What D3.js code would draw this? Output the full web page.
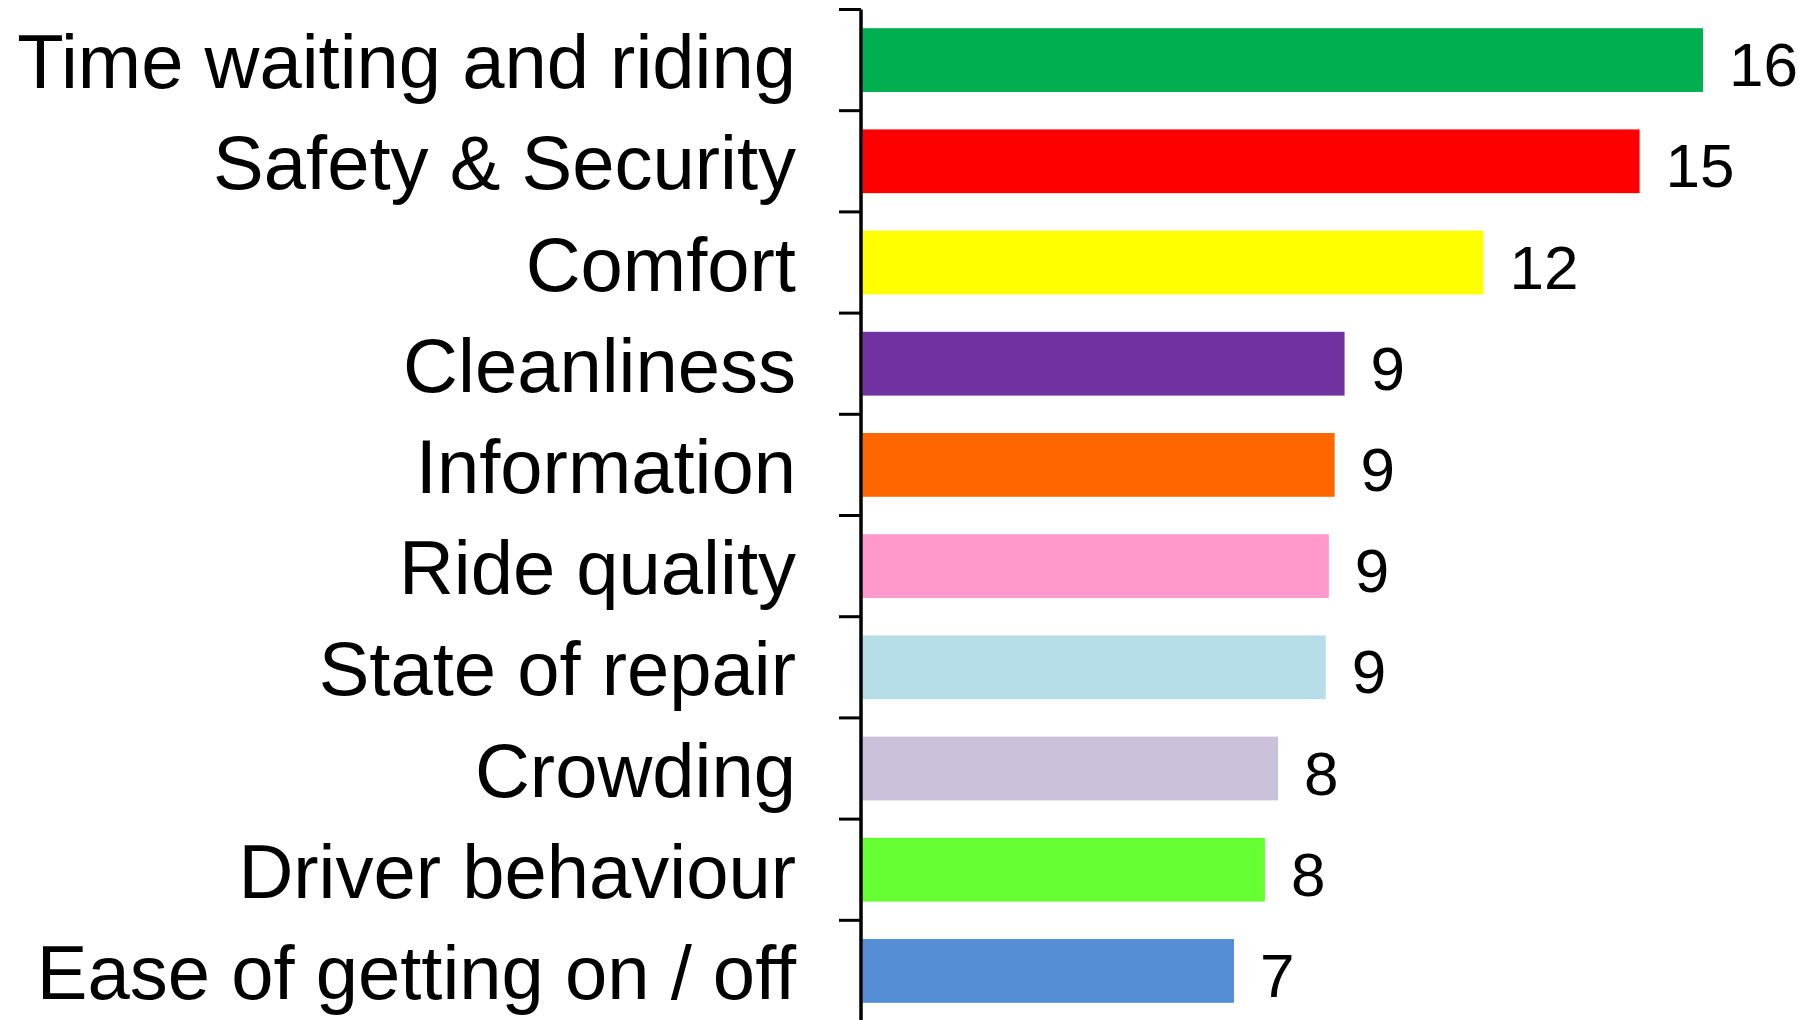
<!DOCTYPE html>
<html>
<head>
<meta charset="utf-8">
<script src="https://cdn.jsdelivr.net/npm/d3@7"></script>
<style>
  body { margin: 0; background: #fff; }
  svg { display: block; font-family: "Liberation Sans", Arial, sans-serif; }
</style>
</head>
<body>
<svg id="chart" width="1814" height="1020"></svg>
<script>
const categories = [
  'Time waiting and riding',
  'Safety & Security',
  'Comfort',
  'Cleanliness',
  'Information',
  'Ride quality',
  'State of repair',
  'Crowding',
  'Driver behaviour',
  'Ease of getting on / off',
];
// values; the labels show them rounded
const values = [16.04, 14.83, 11.85, 9.2, 9.01, 8.9, 8.84, 7.93, 7.68, 7.09];
const barColors = [
  '#00B050', '#FF0000', '#FFFF00', '#7030A0', '#FF6600',
  '#FF99CC', '#B7DDE8', '#CCC1DA', '#66FF33', '#558ED5',
];

const data = categories.map((c, i) => ({ label: c, value: values[i], color: barColors[i] }));

const svg = d3.select('#chart');
const axisX = 861;

const y = d3.scaleBand()
  .domain(categories)
  .range([11, 1020])
  .paddingInner(0.37)
  .paddingOuter(0.17);

const x = d3.scaleLinear()
  .domain([0, 16])
  .range([axisX + 1.5, axisX + 1.5 + 838.4]);

// bars
svg.append('g')
  .selectAll('rect')
  .data(data)
  .join('rect')
  .attr('x', x(0))
  .attr('y', (d) => y(d.label))
  .attr('width', (d) => x(d.value) - x(0))
  .attr('height', y.bandwidth())
  .attr('fill', (d) => d.color);

// category labels
const yAxis = d3.axisLeft(y).tickSize(0).tickPadding(65);
const gAxis = svg.append('g')
  .attr('transform', `translate(${axisX},0)`)
  .call(yAxis);
gAxis.select('.domain').remove();
gAxis.selectAll('text')
  .attr('font-size', 76)
  .attr('font-family', '"Liberation Sans", Arial, sans-serif')
  .attr('fill', '#000')
  .attr('dy', '0.37em');

// axis line and ticks between the categories
const step = y.step();
const boundaries = d3.range(categories.length).map((i) => y(categories[i]) - (y.paddingInner() * step) / 2);

svg.append('line')
  .attr('x1', axisX).attr('x2', axisX)
  .attr('y1', boundaries[0]).attr('y2', 1020)
  .attr('stroke', '#000')
  .attr('stroke-width', 3.5);

svg.append('g')
  .selectAll('line')
  .data(boundaries)
  .join('line')
  .attr('x1', axisX - 22).attr('x2', axisX)
  .attr('y1', (d) => d).attr('y2', (d) => d)
  .attr('stroke', '#000')
  .attr('stroke-width', 3);

// value labels
const fmt = d3.format('.0f');
svg.append('g')
  .selectAll('text')
  .data(data)
  .join('text')
  .attr('x', (d) => x(d.value) + 26)
  .attr('y', (d) => y(d.label) + y.bandwidth() / 2)
  .attr('dy', '0.42em')
  .attr('font-size', 62)
  .attr('fill', '#000')
  .text((d) => fmt(d.value));
</script>
</body>
</html>
